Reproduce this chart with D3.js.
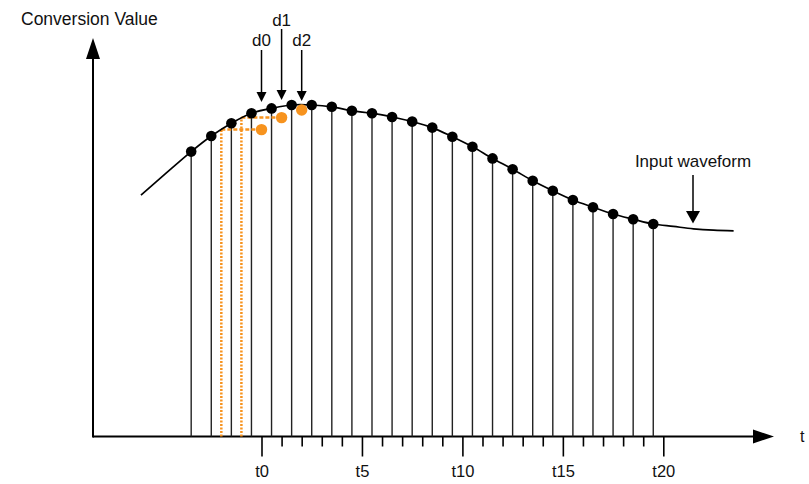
<!DOCTYPE html>
<html>
<head>
<meta charset="utf-8">
<script src="https://cdn.jsdelivr.net/npm/d3@7"></script>
<style>
  html, body { margin: 0; padding: 0; background: #fff; }
  svg { display: block; }
  text { font-family: "Liberation Sans", Arial, sans-serif; fill: #111; }
</style>
</head>
<body>
<script>
// ---- data ----
const sampleT = [-3.5,-2.5,-1.5,-0.5,0.5,1.5,2.5,3.5,4.5,5.5,6.5,7.5,8.5,9.5,10.5,11.5,12.5,13.5,14.5,15.5,16.5,17.5,18.5,19.5];
const sampleV = [71.1,75.0,78.2,80.7,81.9,82.75,82.75,82.3,81.3,80.7,79.75,78.6,77.1,74.8,72.3,69.4,66.7,63.8,61.3,59.0,57.2,55.5,54.2,53.0];
const leadT = [-6, -4.75];
const leadV = [60.2, 65.7];
const tailT = [20.5, 21.5, 22.5, 23.5];
const tailV = [52.4, 51.8, 51.45, 51.3];
const heldSourceT = [-2, -1, 0];
const heldT = [0, 1, 2];
const heldV = [76.6, 79.6, 81.5];
const dLabels = ["d0", "d1", "d2"];
const tickValues = d3.range(0, 21);
const tickLabels = tickValues.map(i => i % 5 === 0 ? "t" + i : "");

// ---- layout ----
const W = 809, H = 484;
const x = d3.scaleLinear().domain([0, 20]).range([261.5, 663.3]);
const y = d3.scaleLinear().domain([0, 100]).range([436, 36]);
const orange = "#f7931e";

const svg = d3.select("body").append("svg").attr("width", W).attr("height", H);

// axes lines with arrowheads
const x0 = 93, y0 = 436.5;
svg.append("line").attr("x1", x0).attr("y1", y0).attr("x2", 756).attr("y2", y0)
  .attr("stroke", "#000").attr("stroke-width", 2);
svg.append("path").attr("d", `M753,${y0-7}L774,${y0}L753,${y0+7}Z`).attr("fill", "#000");
svg.append("line").attr("x1", x0).attr("y1", y0 + 1).attr("x2", x0).attr("y2", 56)
  .attr("stroke", "#000").attr("stroke-width", 2);
svg.append("path").attr("d", `M${x0-7},59L${x0},38L${x0+7},59Z`).attr("fill", "#000");

svg.append("text").attr("x", 21).attr("y", 25).attr("font-size", 17.5).text("Conversion Value");
svg.append("text").attr("x", 800).attr("y", 442).attr("font-size", 16).text("t");

// bottom axis ticks
const axis = d3.axisBottom(x).tickValues(tickValues)
  .tickFormat((d, i) => tickLabels[i]).tickSizeOuter(0);
const gx = svg.append("g").attr("transform", `translate(0,${y0})`).call(axis);
gx.select(".domain").remove();
gx.selectAll(".tick line")
  .attr("stroke", "#000").attr("stroke-width", 1.6)
  .attr("y2", d => d % 5 === 0 ? 20 : 10);
gx.selectAll(".tick text")
  .attr("font-family", '"Liberation Sans", Arial, sans-serif')
  .attr("font-size", 16.5).attr("fill", "#111")
  .attr("dy", 0).attr("y", 40);

// sample stems
svg.append("g").selectAll("line").data(sampleT).join("line")
  .attr("x1", d => x(d)).attr("x2", d => x(d))
  .attr("y1", y0).attr("y2", (d, i) => y(sampleV[i]))
  .attr("stroke", "#222").attr("stroke-width", 1.4);

// orange held lines
svg.append("g").selectAll("line").data(heldSourceT.slice(0, 2)).join("line")
  .attr("x1", d => x(d)).attr("x2", d => x(d))
  .attr("y1", y0).attr("y2", (d, i) => y(heldV[i]))
  .attr("stroke", orange).attr("stroke-width", 2.5).attr("stroke-dasharray", "2,1.5");
svg.append("g").selectAll("line").data(heldSourceT.slice(0, 2)).join("line")
  .attr("x1", d => x(d)).attr("x2", (d, i) => x(heldT[i]))
  .attr("y1", (d, i) => y(heldV[i])).attr("y2", (d, i) => y(heldV[i]))
  .attr("stroke", orange).attr("stroke-width", 2.5).attr("stroke-dasharray", "4,2");

// waveform
const wave = [];
leadT.forEach((t, i) => wave.push([t, leadV[i]]));
sampleT.forEach((t, i) => wave.push([t, sampleV[i]]));
tailT.forEach((t, i) => wave.push([t, tailV[i]]));
svg.append("path").datum(wave)
  .attr("d", d3.line().x(d => x(d[0])).y(d => y(d[1])).curve(d3.curveCatmullRom))
  .attr("fill", "none").attr("stroke", "#000").attr("stroke-width", 1.7);

// sample dots
svg.append("g").selectAll("circle").data(sampleT).join("circle")
  .attr("cx", d => x(d)).attr("cy", (d, i) => y(sampleV[i])).attr("r", 5.3)
  .attr("fill", "#000");

// held dots
svg.append("g").selectAll("circle").data(heldT).join("circle")
  .attr("cx", d => x(d)).attr("cy", (d, i) => y(heldV[i])).attr("r", 5.7)
  .attr("fill", orange);

// d labels with arrows
const labelBase = [46, 26, 46];
const arrowTop = [50, 29, 50];
const arrowTip = [102, 100, 101];
dLabels.forEach((lab, i) => {
  const cx = x(heldT[i]);
  svg.append("text").attr("x", cx).attr("y", labelBase[i]).attr("text-anchor", "middle")
    .attr("font-size", 17).text(lab);
  svg.append("line").attr("x1", cx).attr("x2", cx).attr("y1", arrowTop[i]).attr("y2", arrowTip[i] - 8)
    .attr("stroke", "#000").attr("stroke-width", 1.5);
  svg.append("path").attr("d", `M${cx-5},${arrowTip[i]-10}L${cx},${arrowTip[i]}L${cx+5},${arrowTip[i]-10}Z`)
    .attr("fill", "#000");
});

// Input waveform annotation
svg.append("text").attr("x", 693).attr("y", 167).attr("text-anchor", "middle")
  .attr("font-size", 17).text("Input waveform");
svg.append("line").attr("x1", 693).attr("x2", 693).attr("y1", 175).attr("y2", 213)
  .attr("stroke", "#000").attr("stroke-width", 1.5);
svg.append("path").attr("d", "M686,211L693,223.5L700,211Z").attr("fill", "#000");
</script>
</body>
</html>
